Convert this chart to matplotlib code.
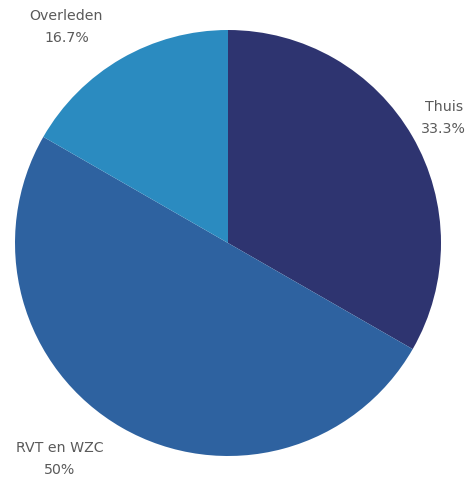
import matplotlib
matplotlib.use("Agg")
import matplotlib.pyplot as plt

categories = ["Thuis", "RVT en WZC", "Overleden"]
values = [33.3, 50.0, 16.7]
pct_labels = ["33.3%", "50%", "16.7%"]
colors = ["#2e3470", "#2e62a0", "#2b8bc0"]

W, H = 470, 483
fig = plt.figure(figsize=(W / 100, H / 100), dpi=100)
cx, cy, r = 228, 243, 213
ax = fig.add_axes([(cx - r) / W, (H - cy - r) / H, 2 * r / W, 2 * r / H])

labels = [f"{c}\n{p}" for c, p in zip(categories, pct_labels)]
wedges, texts = ax.pie(values, colors=colors, startangle=90, counterclock=False,
                       labels=labels, labeldistance=1.17, radius=1,
                       wedgeprops=dict(linewidth=0),
                       textprops=dict(fontsize=10.2, color="#5a5a5a",
                                      family=["DejaVu Sans"],
                                      linespacing=1.7, multialignment="center",
                                      va="center"))
texts[0].set_ha("center")
for t in texts[1:]:
    t.set_ha("right")

ax.set_xlim(-1, 1)
ax.set_ylim(-1, 1)
ax.set_aspect("auto")
ax.axis("off")

fig.savefig("out.png", dpi=100)
